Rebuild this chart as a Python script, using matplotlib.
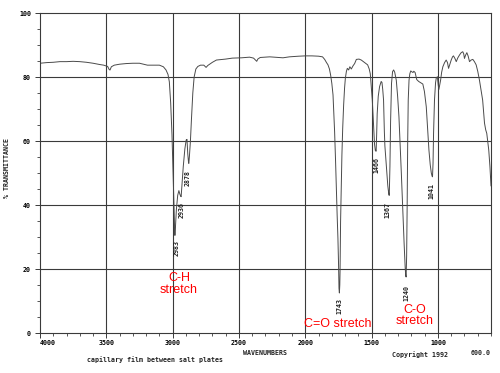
import matplotlib
matplotlib.use("Agg")
import matplotlib.pyplot as plt
from matplotlib.ticker import MultipleLocator, FixedLocator

wavenumber = [4000, 3950, 3900, 3850, 3800, 3750, 3700, 3650, 3600, 3550, 3520, 3490, 3478, 3472, 3462, 3440,
              3400, 3350, 3300, 3250, 3210, 3190, 3150, 3100, 3070, 3050, 3035, 3025, 3015, 3005, 2998, 2990,
              2985, 2983, 2979, 2972, 2962, 2953, 2945, 2940, 2936, 2932, 2920, 2908, 2898, 2892, 2886, 2880,
              2878, 2874, 2866, 2858, 2848, 2838, 2825, 2810, 2790, 2765, 2748, 2735, 2700, 2670, 2600, 2550,
              2480, 2420, 2390, 2375, 2366, 2358, 2340, 2300, 2268, 2200, 2168, 2120, 2050, 2000, 1950, 1900,
              1870, 1854, 1840, 1829, 1818, 1809, 1800, 1791, 1785, 1779, 1772, 1766, 1760, 1754, 1749, 1746,
              1743, 1740, 1738, 1734, 1729, 1724, 1718, 1711, 1704, 1698, 1690, 1683, 1673, 1664, 1653, 1640,
              1628, 1615, 1595, 1578, 1553, 1530, 1518, 1510, 1503, 1495, 1485, 1478, 1472, 1466, 1462, 1458,
              1450, 1440, 1428, 1422, 1416, 1410, 1404, 1400, 1394, 1386, 1378, 1370, 1367, 1362, 1357, 1350,
              1342, 1334, 1326, 1314, 1304, 1294, 1285, 1276, 1265, 1255, 1247, 1243, 1240, 1236, 1232, 1228,
              1224, 1218, 1212, 1205, 1196, 1188, 1182, 1172, 1160, 1145, 1130, 1114, 1102, 1088, 1078, 1068,
              1058, 1050, 1044, 1041, 1037, 1033, 1026, 1018, 1013, 1004, 998, 993, 987, 980, 972, 963,
              950, 938, 928, 920, 910, 900, 890, 883, 872, 862, 850, 837, 825, 813, 806, 800,
              792, 782, 772, 762, 750, 737, 725, 712, 700, 687, 675, 663, 649, 640, 632, 617,
              608, 600]
transmittance = [84.3, 84.5, 84.6, 84.8, 84.8, 84.9, 84.8, 84.6, 84.3, 83.9, 83.7, 83.3, 82.3, 82.2, 83.2, 83.7,
                 84.0, 84.2, 84.3, 84.3, 83.9, 83.7, 83.7, 83.7, 83.2, 82.2, 80.8, 78.5, 72.0, 62.0, 52.0, 40.0,
                 32.0, 30.5, 33.0, 38.5, 43.0, 44.5, 43.3, 42.8, 42.6, 45.0, 52.0, 57.5, 60.3, 60.5, 56.0, 53.2,
                 53.0, 55.0, 60.0, 67.0, 75.0, 80.0, 82.5, 83.3, 83.7, 83.7, 83.0, 83.6, 84.6, 85.3, 85.6, 85.9,
                 86.0, 86.2, 85.9, 85.3, 84.9, 85.6, 86.1, 86.2, 86.3, 86.1, 86.0, 86.3, 86.5, 86.6, 86.6, 86.5,
                 86.3, 85.5, 84.5, 83.8, 82.5, 80.6, 78.0, 74.4, 69.0, 62.9, 54.0, 45.2, 37.0, 29.6, 21.0, 14.0,
                 12.5, 15.0, 19.2, 34.8, 46.0, 55.6, 64.0, 71.2, 76.5, 79.6, 81.8, 82.7, 82.2, 83.2, 82.5, 83.5,
                 84.2, 85.5, 85.6, 85.3, 84.5, 83.8, 82.5, 81.0, 77.0, 72.8, 64.5, 59.0, 57.0, 56.8, 62.0, 68.5,
                 74.0, 77.0, 78.6, 78.3, 76.0, 72.8, 63.0, 58.5, 55.0, 50.0, 46.0, 43.2, 43.0, 52.0, 66.0, 78.0,
                 81.7, 82.2, 81.5, 79.0, 74.0, 67.6, 59.0, 50.0, 38.0, 28.0, 20.5, 18.0, 17.5, 24.0, 40.0, 60.0,
                 72.8, 79.0, 81.0, 81.9, 81.6, 81.4, 81.8, 81.4, 79.2, 78.6, 78.2, 77.8, 75.5, 70.7, 64.0, 57.2,
                 52.5, 50.0, 49.0, 48.8, 53.0, 62.4, 72.8, 78.2, 79.6, 80.1, 77.5, 76.1, 77.5, 79.0, 81.5, 83.2,
                 84.5, 85.3, 84.5, 82.7, 84.0, 85.3, 86.3, 86.6, 85.8, 84.8, 86.0, 86.9, 87.6, 87.9, 87.3, 85.8,
                 86.8, 87.6, 86.5, 84.8, 85.3, 85.5, 84.8, 83.8, 81.8, 79.0, 76.0, 72.8, 65.6, 63.5, 62.4, 57.2,
                 52.0, 46.0]

# peak labels: (label, x position of text, top of text in %T)
peak_labels = ["2983", "2936", "2878", "1743", "1466", "1367", "1240", "1041"]
peak_label_x = [2968, 2931, 2889, 1741, 1462, 1380, 1236, 1048]
peak_label_top = [29, 41, 51, 11, 55, 41, 15, 47]

x_ticks = [4000, 3500, 3000, 2500, 2000, 1500, 1000]
x_tick_labels = ["4000", "3500", "3000", "2500", "2000", "1500", "1000"]
y_ticks = [0, 20, 40, 60, 80, 100]
y_tick_labels = ["0", "20", "40", "60", "80", "100"]

annotations = ["C-H\nstretch", "C=O stretch", "C-O\nstretch"]
annot_x = [2953, 1752, 1176]
annot_y = [15.3, 2.8, 5.5]

mono = "DejaVu Sans Mono"
gcol = "#3a3a3a"
fs = 4.8

fig = plt.figure(figsize=(5, 3.73), dpi=100)
ax = fig.add_axes([40 / 500, 1 - 333 / 373, 451 / 500, 320 / 373])
ax.set_xlim(4000, 600)
ax.set_ylim(0, 100)

ax.plot(wavenumber, transmittance, color="#4a4a4a", lw=0.7)

for v in x_ticks[1:]:
    ax.axvline(v, color=gcol, lw=0.8, zorder=0)
for v in y_ticks[1:-1]:
    ax.axhline(v, color=gcol, lw=0.8, zorder=0)

for s in ax.spines.values():
    s.set_color(gcol)
    s.set_linewidth(0.8)

ax.xaxis.set_major_locator(FixedLocator(x_ticks))
ax.xaxis.set_minor_locator(MultipleLocator(100))
ax.yaxis.set_major_locator(FixedLocator(y_ticks))
ax.yaxis.set_minor_locator(MultipleLocator(5))
ax.set_xticklabels(x_tick_labels, family=mono, fontsize=fs, fontweight="bold")
ax.set_yticklabels(y_tick_labels, family=mono, fontsize=fs, fontweight="bold")
ax.get_xticklabels()[0].set_horizontalalignment("left")
ax.tick_params(axis="both", which="major", length=3.5, width=0.7, color=gcol, pad=1.5)
ax.tick_params(axis="both", which="minor", length=2.2, width=0.6, color=gcol)
ax.tick_params(axis="y", which="major", pad=3)

for lab, lx, ly in zip(peak_labels, peak_label_x, peak_label_top):
    ax.text(lx, ly, lab, rotation=90, ha="center", va="top", family=mono,
            fontsize=fs, fontweight="bold", color="#222222")

for t, tx, ty in zip(annotations, annot_x, annot_y):
    ax.text(tx, ty, t, ha="center", va="center", multialignment="center",
            color="#ff0000", fontsize=9, family="Liberation Sans", linespacing=0.95)

fig.text(7 / 500, 1 - 168 / 373, "% TRANSMITTANCE", rotation=90, ha="center", va="center",
         family=mono, fontsize=fs, fontweight="bold", color="#222222")
fig.text(265 / 500, 1 - 353 / 373, "WAVENUMBERS", ha="center", va="center",
         family=mono, fontsize=fs, fontweight="bold", color="#222222")
fig.text(155 / 500, 1 - 360 / 373, "capillary film between salt plates", ha="center", va="center",
         family=mono, fontsize=fs, fontweight="bold", color="#222222")
fig.text(420 / 500, 1 - 355 / 373, "Copyright 1992", ha="center", va="center",
         family=mono, fontsize=fs, fontweight="bold", color="#222222")
fig.text(491 / 500, 1 - 353 / 373, "600.0", ha="right", va="center",
         family=mono, fontsize=fs, fontweight="bold", color="#222222")

fig.savefig("out.png", dpi=100, facecolor="white")
